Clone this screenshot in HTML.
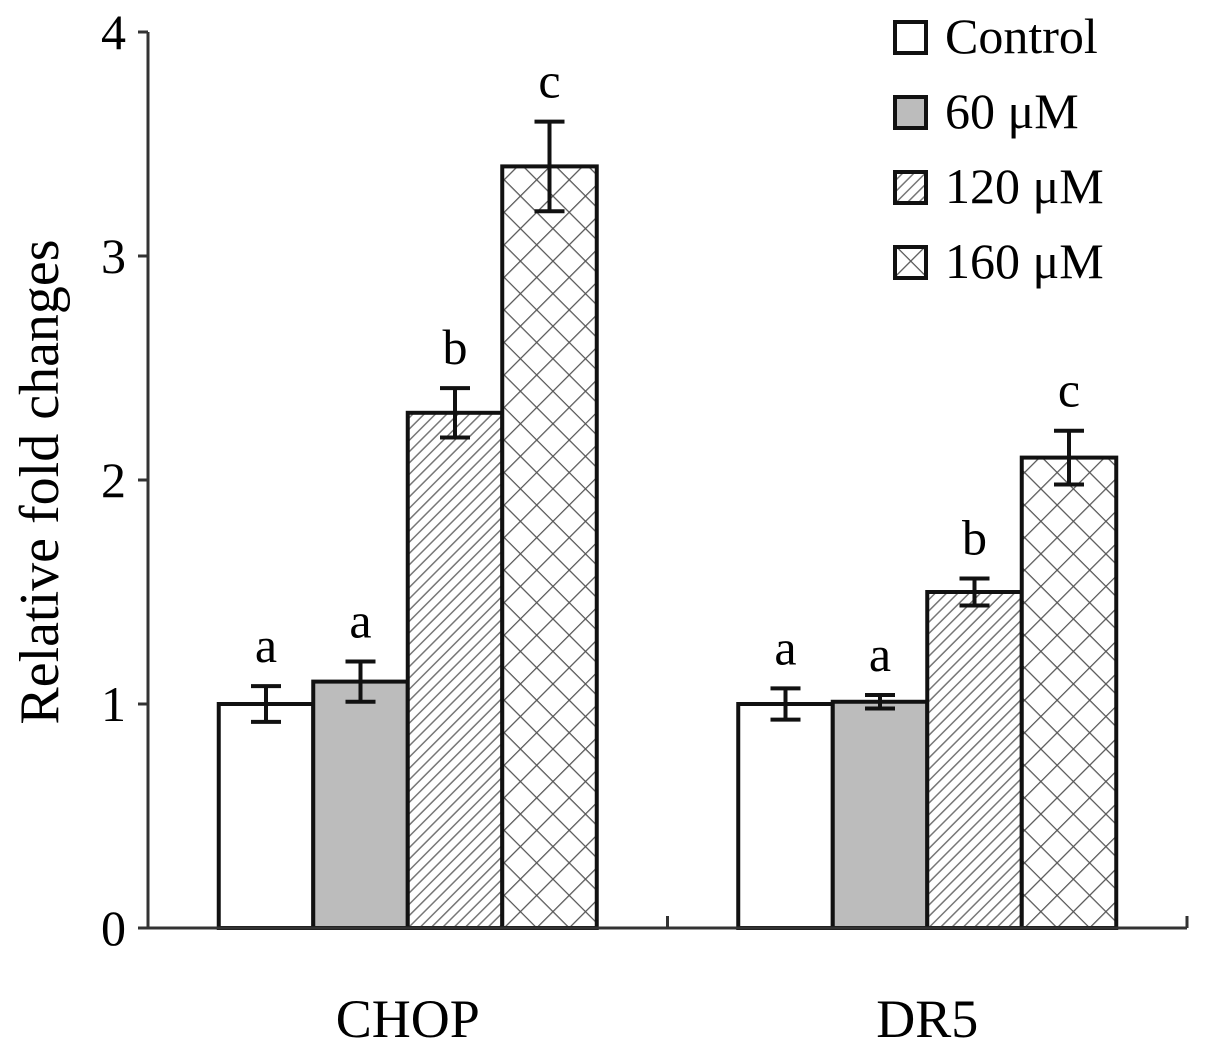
<!DOCTYPE html>
<html><head><meta charset="utf-8"><style>
html,body{margin:0;padding:0;background:#fff;}
svg{display:block;font-family:"Liberation Serif",serif;}
</style></head><body>
<svg id="chart" width="1205" height="1042" viewBox="0 0 1205 1042">
<defs>
<pattern id="hatch" width="8" height="8" patternUnits="userSpaceOnUse" patternTransform="rotate(45)">
<rect width="8" height="8" fill="#fff"/><line x1="0" y1="0" x2="0" y2="8" stroke="#777" stroke-width="3"/>
</pattern>
<pattern id="cross" width="23" height="23" patternUnits="userSpaceOnUse" patternTransform="rotate(45)">
<rect width="23" height="23" fill="#fff"/><line x1="0" y1="0" x2="0" y2="23" stroke="#555" stroke-width="2.5"/><line x1="0" y1="0" x2="23" y2="0" stroke="#555" stroke-width="2.5"/>
</pattern>
</defs>
<g id="plot"></g>
</svg>
<script>
const categories = ["CHOP", "DR5"];
const seriesNames = ["Control", "60 μM", "120 μM", "160 μM"];
const seriesFills = ["#fff", "#bcbcbc", "url(#hatch)", "url(#cross)"];
const chopValues = [1.0, 1.1, 2.3, 3.4];
const chopErrors = [0.08, 0.09, 0.11, 0.2];
const dr5Values = [1.0, 1.01, 1.5, 2.1];
const dr5Errors = [0.07, 0.03, 0.06, 0.12];
const chopLetters = ["a", "a", "b", "c"];
const dr5Letters = ["a", "a", "b", "c"];
const yTicks = [0, 1, 2, 3, 4];

const NS = "http://www.w3.org/2000/svg";
const g = document.getElementById("plot");
const x0 = 148, x1 = 1187, yBase = 928, yTop = 32;
const yMax = 4;
function yScale(v){ return yBase - (yBase - yTop) * v / yMax; }
const groupW = (x1 - x0) / categories.length;
const barW = 94.5;
function barX(ci, si){ return x0 + groupW * ci + groupW / 2 - 2 * barW + si * barW; }
function mk(tag, attrs, parent){ const e = document.createElementNS(NS, tag); for (const k in attrs) e.setAttribute(k, attrs[k]); (parent || g).appendChild(e); return e; }

const allVals = [chopValues, dr5Values], allErr = [chopErrors, dr5Errors], allLet = [chopLetters, dr5Letters];
categories.forEach((cat, ci) => {
  seriesNames.forEach((sn, si) => {
    const v = allVals[ci][si], e = allErr[ci][si];
    const bx = barX(ci, si), by = yScale(v);
    const r = mk("rect", {x: bx, y: by, width: barW, height: yBase - by, fill: seriesFills[si], stroke: "#111", "stroke-width": 4});
    
    
    const cx = bx + barW / 2, yh = yScale(v + e), yl = yScale(v - e);
    const eb = mk("path", {d: `M${cx},${yh}V${yl}M${cx-15},${yh}H${cx+15}M${cx-15},${yl}H${cx+15}`, stroke: "#111", "stroke-width": 4, fill: "none"});
    
    
    const t = mk("text", {x: cx, y: yh - 24, "text-anchor": "middle", "font-size": 50});
    t.textContent = allLet[ci][si];
    
    
  });
  const lab = mk("text", {x: x0 + groupW * ci + groupW / 2, y: 1037, "text-anchor": "middle", "font-size": 54});
  lab.textContent = cat;
  
  
});
const ax = mk("path", {d: `M${x0},${yTop}V${yBase}H${x1}`, stroke: "#333", "stroke-width": 3, fill: "none"});


[0,1,2].forEach(i => {
  const xt = x0 + groupW * i;
  const tk = mk("line", {x1: xt, x2: xt, y1: yBase, y2: yBase - 12, stroke: "#333", "stroke-width": 3});
  
  
});
yTicks.forEach(v => {
  const y = yScale(v);
  const tk = mk("line", {x1: x0 - 10, x2: x0, y1: y, y2: y, stroke: "#333", "stroke-width": 3});
  
  
  const t = mk("text", {x: 126, y: y + 17, "text-anchor": "end", "font-size": 50});
  t.textContent = v;
  
  
});
const yt = mk("text", {x: 0, y: 0, "text-anchor": "middle", "font-size": 56, transform: "translate(58,482) rotate(-90)"});
yt.textContent = "Relative fold changes";


seriesNames.forEach((sn, si) => {
  const ly = 37 + si * 75;
  const b = mk("rect", {x: 895, y: ly - 15, width: 31, height: 31, fill: seriesFills[si], stroke: "#111", "stroke-width": 4});
  
  
  const t = mk("text", {x: 945, y: ly + 16, "font-size": 50});
  t.textContent = sn;
  
  
});
</script>
</body></html>
